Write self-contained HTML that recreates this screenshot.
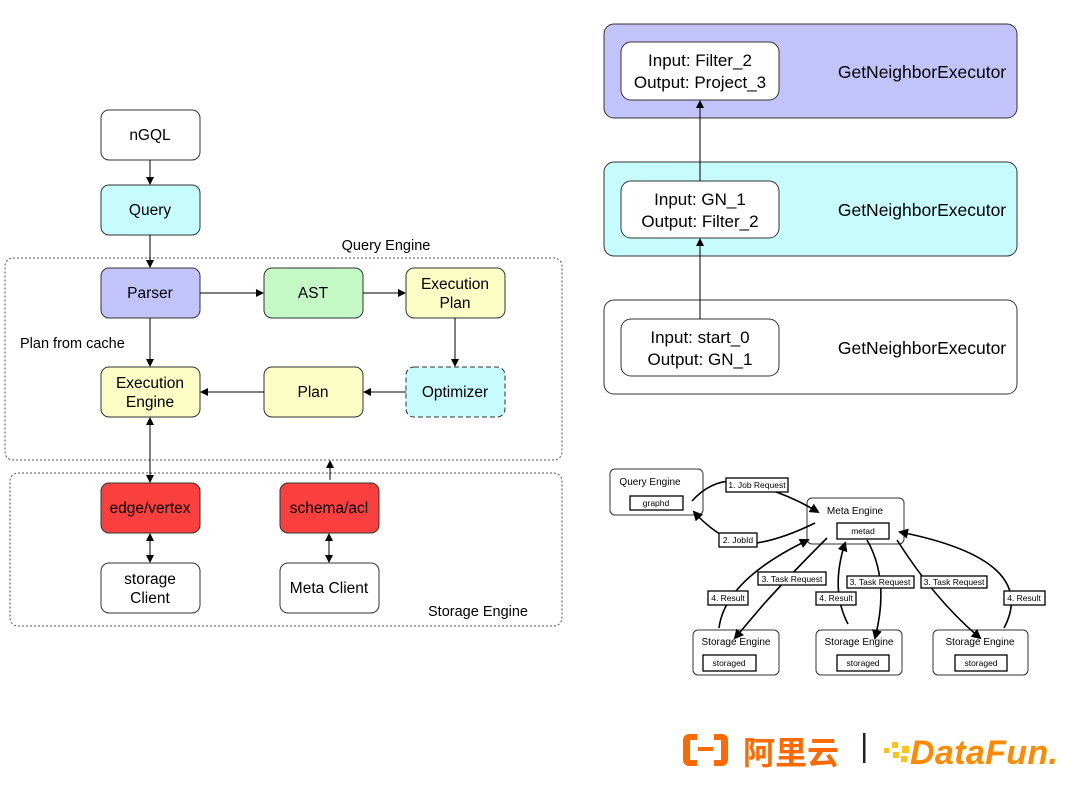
<!DOCTYPE html>
<html><head><meta charset="utf-8"><style>
html,body{margin:0;padding:0;background:#fff;}
svg{display:block;font-family:"Liberation Sans",sans-serif;}
</style></head><body>
<svg width="1080" height="787" viewBox="0 0 1080 787" xmlns="http://www.w3.org/2000/svg">
<defs>
<marker id="a" markerWidth="8" markerHeight="8" refX="7" refY="4" orient="auto" markerUnits="userSpaceOnUse"><path d="M0,0 L8,4 L0,8 z" fill="#000"/></marker>
<marker id="as" markerWidth="8" markerHeight="8" refX="1" refY="4" orient="auto" markerUnits="userSpaceOnUse"><path d="M8,0 L0,4 L8,8 z" fill="#000"/></marker>
<marker id="b" markerWidth="10" markerHeight="10" refX="8" refY="5" orient="auto" markerUnits="userSpaceOnUse"><path d="M0,0 L10,5 L0,10 z" fill="#000"/></marker>
</defs>
<rect x="5" y="258" width="557" height="202" rx="8" fill="none" stroke="#555" stroke-dasharray="2,2"/>
<rect x="10" y="473" width="552" height="153" rx="8" fill="none" stroke="#555" stroke-dasharray="2,2"/>
<text x="386" y="250" font-size="14.5" text-anchor="middle">Query Engine</text>
<text x="478" y="616" font-size="14.5" text-anchor="middle">Storage Engine</text>
<text x="20" y="348" font-size="14.5">Plan from cache</text>
<g stroke="#333" stroke-width="1">
<rect x="101" y="110" width="99" height="50" rx="8" fill="#fff"/>
<rect x="101" y="185" width="99" height="50" rx="8" fill="#c6fcfd"/>
<rect x="101" y="268" width="99" height="50" rx="8" fill="#c3c3fc"/>
<rect x="264" y="268" width="99" height="50" rx="8" fill="#c4f8c4"/>
<rect x="406" y="268" width="99" height="50" rx="8" fill="#fdfdc6"/>
<rect x="406" y="367" width="99" height="50" rx="8" fill="#c6fcfd" stroke-dasharray="5,3"/>
<rect x="264" y="367" width="99" height="50" rx="8" fill="#fdfdc6"/>
<rect x="101" y="367" width="99" height="50" rx="8" fill="#fdfdc6"/>
<rect x="101" y="483" width="99" height="50" rx="8" fill="#fa3f3f"/>
<rect x="280" y="483" width="99" height="50" rx="8" fill="#fa3f3f"/>
<rect x="101" y="563" width="99" height="50" rx="8" fill="#fff"/>
<rect x="280" y="563" width="99" height="50" rx="8" fill="#fff"/>
</g>
<g font-size="15.5" text-anchor="middle">
<text x="150" y="140">nGQL</text>
<text x="150" y="215">Query</text>
<text x="150" y="298">Parser</text>
<text x="313" y="298">AST</text>
<text x="455" y="289">Execution</text><text x="455" y="308">Plan</text>
<text x="455" y="397">Optimizer</text>
<text x="313" y="397">Plan</text>
<text x="150" y="388">Execution</text><text x="150" y="407">Engine</text>
<text x="150" y="513">edge/vertex</text>
<text x="329" y="513">schema/acl</text>
<text x="150" y="584">storage</text><text x="150" y="603">Client</text>
<text x="329" y="593">Meta Client</text>
</g>
<g stroke="#000" stroke-width="1" fill="none">
<line x1="150" y1="160" x2="150" y2="184" marker-end="url(#a)"/>
<line x1="150" y1="235" x2="150" y2="267" marker-end="url(#a)"/>
<line x1="200" y1="293" x2="263" y2="293" marker-end="url(#a)"/>
<line x1="363" y1="293" x2="405" y2="293" marker-end="url(#a)"/>
<line x1="455" y1="318" x2="455" y2="366" marker-end="url(#a)"/>
<line x1="406" y1="392" x2="364" y2="392" marker-end="url(#a)"/>
<line x1="264" y1="392" x2="201" y2="392" marker-end="url(#a)"/>
<line x1="150" y1="318" x2="150" y2="366" marker-end="url(#a)"/>
<line x1="150" y1="418" x2="150" y2="482" marker-start="url(#as)" marker-end="url(#a)"/>
<line x1="150" y1="534" x2="150" y2="562" marker-start="url(#as)" marker-end="url(#a)"/>
<line x1="329" y1="534" x2="329" y2="562" marker-start="url(#as)" marker-end="url(#a)"/>
<line x1="330" y1="480" x2="330" y2="461" marker-end="url(#a)"/>
</g>
<g stroke="#333" stroke-width="1">
<rect x="604" y="24" width="413" height="94" rx="10" fill="#c3c3fc"/>
<rect x="604" y="162" width="413" height="94" rx="10" fill="#c6fcfd"/>
<rect x="604" y="300" width="413" height="94" rx="10" fill="#fff"/>
<rect x="621" y="42" width="158" height="58" rx="10" fill="#fff"/>
<rect x="621" y="181" width="158" height="57" rx="10" fill="#fff"/>
<rect x="621" y="319" width="158" height="57" rx="10" fill="#fff"/>
</g>
<g font-size="17" text-anchor="middle">
<text x="700" y="66">Input: Filter_2</text><text x="700" y="88">Output: Project_3</text>
<text x="700" y="205">Input: GN_1</text><text x="700" y="227">Output: Filter_2</text>
<text x="700" y="343">Input: start_0</text><text x="700" y="365">Output: GN_1</text>
<text x="922" y="78" font-size="17.5">GetNeighborExecutor</text>
<text x="922" y="216" font-size="17.5">GetNeighborExecutor</text>
<text x="922" y="354" font-size="17.5">GetNeighborExecutor</text>
</g>
<line x1="700" y1="319" x2="700" y2="239" stroke="#000" marker-end="url(#a)"/>
<line x1="700" y1="181" x2="700" y2="101" stroke="#000" marker-end="url(#a)"/>
<g stroke="#333" stroke-width="1" fill="#fff">
<rect x="610" y="469" width="93" height="46" rx="5"/>
<rect x="807" y="498" width="97" height="46" rx="5"/>
<rect x="693" y="630" width="86" height="45" rx="5"/>
<rect x="816" y="630" width="86" height="45" rx="5"/>
<rect x="933" y="630" width="95" height="45" rx="5"/>
</g>
<g stroke="#000" stroke-width="1.3" fill="#fff">
<rect x="630" y="496" width="53" height="14"/>
<rect x="837" y="523" width="52" height="16"/>
<rect x="703" y="655" width="53" height="16"/>
<rect x="837" y="655" width="52" height="16"/>
<rect x="955" y="655" width="52" height="16"/>
</g>
<g stroke="#000" stroke-width="1.6" fill="none">
<path d="M692,501 Q720,470 760,487 Q790,495 818,512" marker-end="url(#b)"/>
<path d="M815,523 Q770,545 740,544 Q715,535 694,512" marker-end="url(#b)"/>
<path d="M827,538 Q790,575 763,605 L735,638" marker-end="url(#b)"/>
<path d="M719,628 Q725,580 808,540" marker-end="url(#b)"/>
<path d="M848,624 Q830,590 845,543" marker-end="url(#b)"/>
<path d="M867,540 Q890,580 875,638" marker-end="url(#b)"/>
<path d="M897,540 Q935,600 980,638" marker-end="url(#b)"/>
<path d="M1004,628 Q1040,560 900,532" marker-end="url(#b)"/>
</g>
<g stroke="#000" stroke-width="1.3" fill="#fff">
<rect x="726" y="478" width="62" height="14"/>
<rect x="719" y="533" width="38" height="14"/>
<rect x="758" y="572" width="68" height="13"/>
<rect x="847" y="576" width="67" height="12"/>
<rect x="921" y="576" width="66" height="12"/>
<rect x="708" y="591" width="40" height="14"/>
<rect x="816" y="592" width="40" height="13"/>
<rect x="1004" y="591" width="41" height="14"/>
</g>
<g font-size="8.5" text-anchor="middle">
<text x="650" y="485" font-size="10">Query Engine</text>
<text x="656" y="506">graphd</text>
<text x="855" y="514" font-size="10">Meta Engine</text>
<text x="863" y="534">metad</text>
<text x="736" y="645" font-size="10">Storage Engine</text>
<text x="859" y="645" font-size="10">Storage Engine</text>
<text x="980" y="645" font-size="10">Storage Engine</text>
<text x="729" y="666">storaged</text>
<text x="863" y="666">storaged</text>
<text x="981" y="666">storaged</text>
<text x="757" y="488">1. Job Request</text>
<text x="738" y="543">2. JobId</text>
<text x="792" y="582">3. Task Request</text>
<text x="880" y="585">3. Task Request</text>
<text x="954" y="585">3. Task Request</text>
<text x="728" y="601">4. Result</text>
<text x="836" y="601">4. Result</text>
<text x="1024" y="601">4. Result</text>
</g>
<g fill="#ff6a00">
<path d="M697,734 h-8 a6,6 0 0 0 -6,6 v20 a6,6 0 0 0 6,6 h8 v-6 h-7 v-20 h7 z"/>
<path d="M714,734 h8 a6,6 0 0 1 6,6 v20 a6,6 0 0 1 -6,6 h-8 v-6 h7 v-20 h-7 z"/>
<rect x="698" y="747" width="15" height="4"/>
<text x="743" y="764" font-size="32" font-family="'Noto Sans CJK SC',sans-serif" font-weight="bold">阿里云</text>
</g>
<rect x="863" y="733" width="2.5" height="30" fill="#222"/>
<g fill="#ffc21a">
<rect x="884" y="748" width="5" height="5"/><rect x="892" y="742" width="6" height="6"/><rect x="893" y="752" width="6" height="6"/>
<rect x="902" y="746" width="7" height="7"/><rect x="901" y="756" width="6" height="6"/>
</g>
<text x="910" y="764" font-size="34" font-style="italic" font-weight="bold" fill="#ff8a00" textLength="148">DataFun.</text>
</svg>
</body></html>
